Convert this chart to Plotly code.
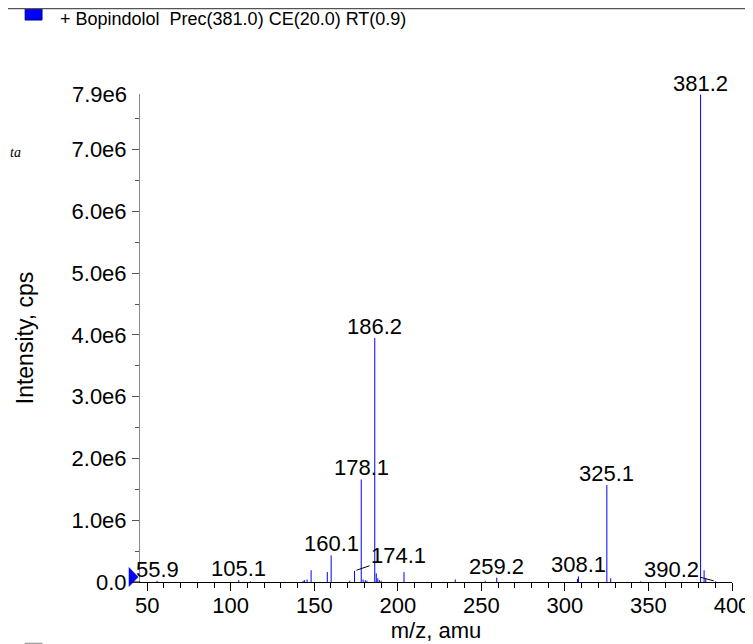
import plotly.graph_objects as go

# ---- data ----
mz = [55.9, 104.8, 111.8, 143.3, 144.2, 145.7, 148.1, 157.8, 160.1, 171.2,
      174.1, 178.1, 179.2, 180.5, 181.5, 186.2, 187.1, 188.0, 189.0, 190.0,
      203.7, 234.4, 252.3, 259.2, 307.5, 308.1, 325.1, 327.4, 345.4, 381.2,
      383.3, 384.3, 390.2]
intensity = [0.02e6, 0.03e6, 0.01e6, 0.02e6, 0.03e6, 0.04e6, 0.19e6, 0.16e6, 0.43e6, 0.02e6,
             0.18e6, 1.66e6, 0.04e6, 0.03e6, 0.02e6, 3.95e6, 0.14e6, 0.06e6, 0.03e6, 0.02e6,
             0.16e6, 0.04e6, 0.02e6, 0.07e6, 0.05e6, 0.09e6, 1.57e6, 0.06e6, 0.01e6, 7.89e6,
             0.19e6, 0.05e6, 0.01e6]

labels_plain = ["55.9", "105.1", "160.1", "178.1", "186.2", "259.2", "308.1", "325.1", "381.2"]
labels_plain_mz = [55.9, 104.8, 160.1, 178.1, 186.2, 259.2, 308.1, 325.1, 381.2]
labels_plain_int = [0.02e6, 0.03e6, 0.43e6, 1.66e6, 3.95e6, 0.07e6, 0.09e6, 1.57e6, 7.89e6]

labels_leader = ["174.1", "390.2"]
labels_leader_mz = [174.1, 390.2]
labels_leader_int = [0.18e6, 0.01e6]
leader_offsets = [(44, -15), (-44, -12)]

y_tickvals = [0, 1e6, 2e6, 3e6, 4e6, 5e6, 6e6, 7e6]
y_ticktext = ["0.0", "1.0e6", "2.0e6", "3.0e6", "4.0e6", "5.0e6", "6.0e6", "7.0e6"]
y_max = 7.9e6
y_max_text = "7.9e6"
x_tickvals = [50, 100, 150, 200, 250, 300, 350, 400]

title_text = "+ Bopindolol\u00a0\u00a0Prec(381.0) CE(20.0) RT(0.9)"

FONT = "Liberation Sans, Arial, Helvetica, sans-serif"
FS = 22
HFS = 18

# build stick spectrum
xs, ys = [], []
for m, v in zip(mz, intensity):
    xs += [m, m, None]
    ys += [0, v, None]

fig = go.Figure()
fig.add_trace(go.Scatter(x=xs, y=ys, mode="lines",
                         line=dict(color="#0000ff", width=1),
                         hoverinfo="skip", showlegend=False))

for t, m, v in zip(labels_plain, labels_plain_mz, labels_plain_int):
    fig.add_annotation(x=m, y=v, text=t, showarrow=False, yanchor="bottom",
                       xanchor="center", yshift=-3,
                       font=dict(family=FONT, size=FS, color="black"))
for t, m, v, (ax, ay) in zip(labels_leader, labels_leader_mz, labels_leader_int, leader_offsets):
    fig.add_annotation(x=m, y=v, text=t, showarrow=True, arrowhead=0, arrowwidth=1,
                       arrowcolor="black", ax=ax, ay=ay, standoff=2,
                       font=dict(family=FONT, size=FS, color="black"))

# top-of-axis label (no tick mark there)
fig.add_annotation(xref="paper", yref="y", x=0, y=y_max, text=y_max_text, showarrow=False,
                   xanchor="right", yanchor="middle", xshift=-11,
                   font=dict(family=FONT, size=FS, color="black"))

# precursor indicator triangle at the left end of the x axis
fig.add_shape(type="path", xref="paper", yref="paper",
              path="M -0.0186,0.0297 L -0.0030,0.0102 L -0.0186,-0.0093 Z",
              fillcolor="#0000ff", line=dict(color="#0000ff", width=0.5))
# short extension of the x axis line to the left
fig.add_shape(type="line", xref="paper", yref="paper", x0=-0.0135, x1=0, y0=0, y1=0,
              line=dict(color="black", width=1))

# header legend
fig.add_annotation(xref="paper", yref="paper", x=-0.1385, y=1.1527, xanchor="left",
                   yanchor="middle", text=title_text, showarrow=False,
                   font=dict(family=FONT, size=HFS, color="black"))
fig.add_shape(type="rect", xref="paper", yref="paper",
              x0=-0.194, x1=-0.1655, y0=1.1516, y1=1.1745,
              fillcolor="#0000ff", line=dict(color="#000080", width=1))
# top separator line
fig.add_shape(type="line", xref="paper", yref="paper", x0=-0.223, x1=1.04,
              y0=1.1752, y1=1.1752, line=dict(color="#555555", width=1.5))
# bottom-left cut-off legend square
fig.add_shape(type="rect", xref="paper", yref="paper",
              x0=-0.194, x1=-0.1655, y0=-0.1255, y1=-0.16,
              fillcolor="#eeeeee", line=dict(color="#888888", width=1))
# small text fragment at the left edge
fig.add_annotation(xref="paper", yref="paper", x=-0.2225, y=0.881, xanchor="left",
                   yanchor="middle", text="ta", showarrow=False,
                   font=dict(family="Liberation Serif, serif", size=14, color="black",
                             style="italic"))

# margins compensate the 8px page margin so the plot area lands at x 140-732, y 94-582
fig.update_layout(
    width=753, height=644,
    margin=dict(l=132, r=29, t=86, b=70, autoexpand=False),
    plot_bgcolor="white", paper_bgcolor="white",
    font=dict(family=FONT, size=FS, color="black"),
    xaxis=dict(range=[45.7, 400], tickvals=x_tickvals, ticks="outside", ticklen=8,
               tickcolor="black", showline=True, linecolor="black", linewidth=1,
               showgrid=False, zeroline=False, tickfont=dict(size=FS), automargin=False,
               ticklabelstandoff=-4,
               minor=dict(dtick=10, tick0=0, ticks="outside", ticklen=5, tickcolor="black"),
               title=dict(text="m/z, amu", font=dict(size=FS), standoff=0)),
    yaxis=dict(range=[0, y_max], tickvals=y_tickvals, ticktext=y_ticktext,
               ticks="outside", ticklen=7, tickcolor="#555555", automargin=False,
               showline=True, linecolor="#888888", linewidth=1,
               showgrid=False, zeroline=False, tickfont=dict(size=FS),
               ticklabelstandoff=1,
               minor=dict(dtick=0.5e6, tick0=0, ticks="outside", ticklen=4, tickcolor="#555555"),
               title=dict(text="Intensity, cps", font=dict(size=23), standoff=31)),
)

fig.write_html("out.html")
